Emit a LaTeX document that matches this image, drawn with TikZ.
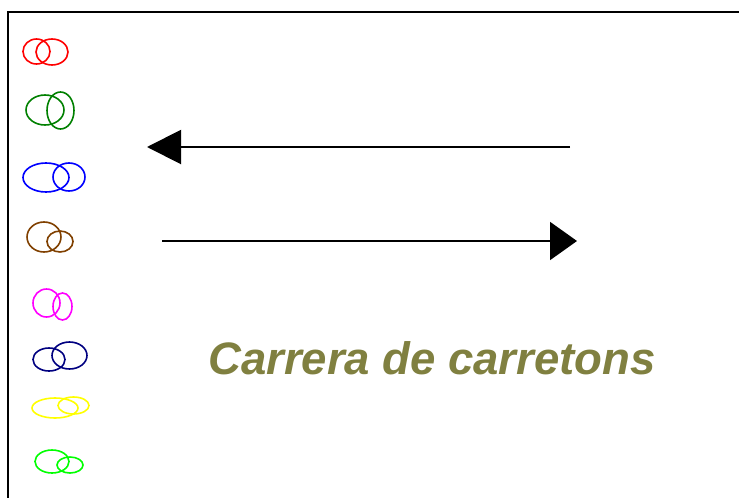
\documentclass[tikz,border=0pt]{standalone}
\usepackage{fontspec}
\setmainfont{Liberation Sans}
\usetikzlibrary{arrows.meta}
\definecolor{olivetext}{RGB}{128,128,64}
\definecolor{wheelred}{RGB}{255,0,0}
\definecolor{wheelgreen}{RGB}{0,128,0}
\definecolor{wheelblue}{RGB}{0,0,255}
\definecolor{wheelbrown}{RGB}{128,64,0}
\definecolor{wheelpink}{RGB}{255,0,255}
\definecolor{wheelnavy}{RGB}{0,0,128}
\definecolor{wheelyellow}{RGB}{255,255,0}
\definecolor{wheellime}{RGB}{0,255,0}
\tikzset{>={Triangle[length=34pt,width=34pt]}}

\begin{document}
\begin{tikzpicture}[x=1pt,y=-1pt]
        % pixel coordinates, y grows downwards
        \tikzstyle{frame}=[black, line width=2pt]
        \tikzstyle{wheel}=[line width=1.6pt]
        \tikzstyle{track}=[black, line width=2pt]
        \useasboundingbox (0,0) rectangle (739,498);

        \draw[frame] (8,498) -- (8,12) -- (739,12);

        % pairs of wheels: colour / left ellipse / right ellipse
        \foreach \col/\xa/\ya/\rxa/\rya/\xb/\yb/\rxb/\ryb in {
                wheelred/36.5/51.5/13.5/12.5/52/52/16/13,
                wheelgreen/45/110/19/15/60.5/110.5/13.5/18.5,
                wheelblue/46/177.5/23/14.5/69/177/16/14,
                wheelbrown/44/237/17/15/60/241.5/13/10.5,
                wheelpink/46.5/303/13.5/14/62.5/306.5/9.5/13.5,
                wheelnavy/49/359.5/16/11.5/69.5/355.5/17.5/13.5,
                wheelyellow/55/408/23/10/73.5/405.5/15.5/8.5,
                wheellime/52/461.5/17/11.5/70/465/13/8}
        {
                \draw[wheel, \col] (\xa,\ya) ellipse [x radius=\rxa, y radius=\rya];
                \draw[wheel, \col] (\xb,\yb) ellipse [x radius=\rxb, y radius=\ryb];
        }

        \coordinate (backstart) at (570,147);
        \coordinate (backend) at (147,147);
        \coordinate (gostart) at (162,241);
        \coordinate (goend) at (577,241);

        \draw[track, ->] (backstart) -- (backend);
        \draw[track, -{Triangle[length=27pt,width=38pt]}] (gostart) -- (goend);

        \node[olivetext, font=\fontsize{45.5}{50}\selectfont\bfseries\itshape,
                anchor=base, inner sep=0pt] (title) at (432,374) {Carrera de carretons};
\end{tikzpicture}
\end{document}
